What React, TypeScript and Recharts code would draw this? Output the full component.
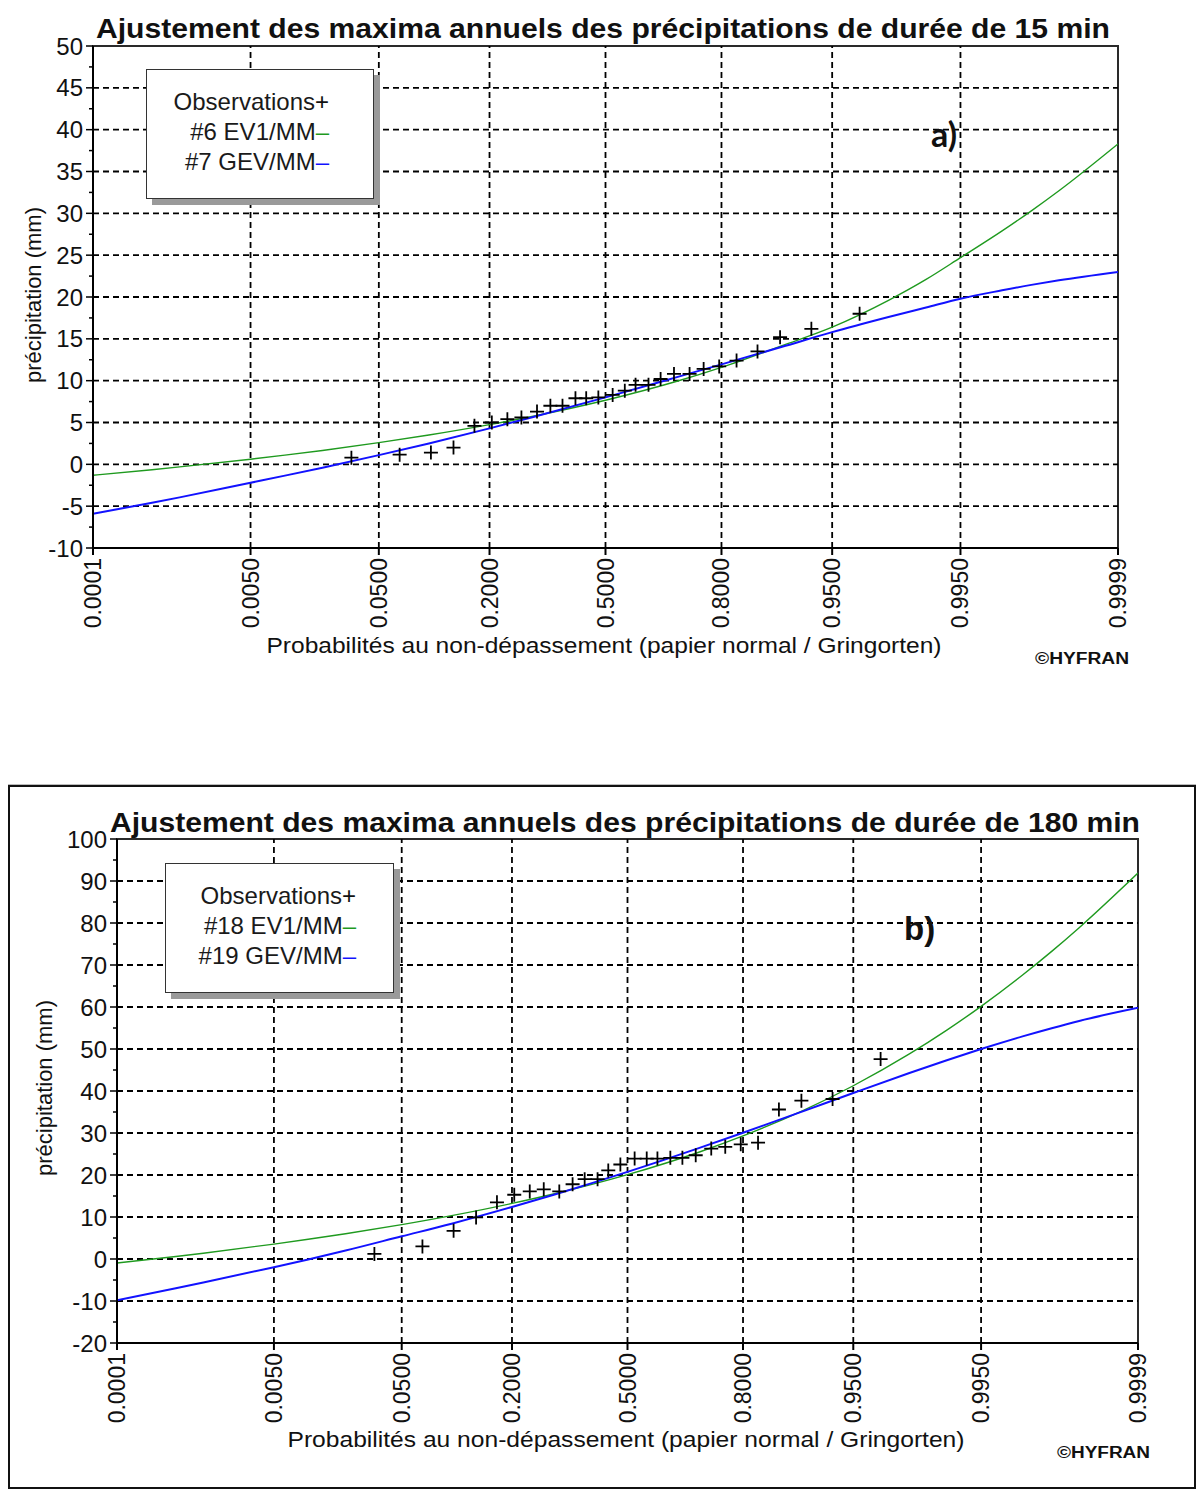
import React from "react";
import {
  ComposedChart,
  Legend,
  Line,
  ReferenceArea,
  ReferenceLine,
  Scatter,
  XAxis,
  YAxis,
} from "recharts";

// Probability paper: x axis is the normal quantile of the non-exceedance probability
const PROB_TICKS = ["0.0001", "0.0050", "0.0500", "0.2000", "0.5000", "0.8000", "0.9500", "0.9950", "0.9999"];

// probabilities at which the fitted curves were read
const CURVE_P = [
  0.0001, 0.0005, 0.001, 0.005, 0.01, 0.02, 0.05, 0.1, 0.2, 0.3, 0.5, 0.7, 0.8, 0.9, 0.95,
  0.98, 0.99, 0.995, 0.998, 0.999, 0.9995, 0.9999,
];

// plotting positions of the 28 observations (same for both charts)
const OBS_P = [
  0.0326, 0.0676, 0.1026, 0.135, 0.1708, 0.2047, 0.2382, 0.2709, 0.3096, 0.3446, 0.3775, 0.4137,
  0.4443, 0.4793, 0.5207, 0.5557, 0.5863, 0.6225, 0.6554, 0.6904, 0.7291, 0.7618, 0.7953,
  0.8292, 0.865, 0.8974, 0.9324, 0.9674,
];

// a) 15 min
const OBS_15 = [
  0.8, 1.15, 1.4, 2.0, 4.6, 5.0, 5.4, 5.6, 6.3, 7.0, 7.0, 7.9, 7.9, 8.0, 8.3, 8.8, 9.5, 9.5, 10.2,
  10.8, 10.8, 11.4, 11.7, 12.4, 13.5, 15.2, 16.2, 18.0,
];
const EV1_15 = [
  -1.3, -0.64, -0.31, 0.61, 1.1, 1.66, 2.59, 3.5, 4.74, 5.75, 7.66, 9.96, 11.59, 14.19, 16.4,
  19.6, 22.1, 24.7, 27.9, 30.3, 32.7, 38.3,
];
const GEV_15 = [
  -5.9, -4.6, -3.95, -2.2, -1.35, -0.4, 1.1, 2.5, 4.3, 5.65, 8.0, 10.45, 11.95, 14.05, 15.8,
  17.6, 18.75, 19.8, 20.8, 21.45, 22.0, 23.0,
];

// b) 180 min
const OBS_180 = [
  1.2, 3.0, 6.7, 9.9, 13.5, 15.3, 16.1, 16.6, 16.1, 17.8, 19.0, 19.0, 21.1, 22.5, 23.9, 23.9,
  23.9, 24.1, 24.1, 24.7, 26.3, 26.7, 27.3, 27.7, 35.6, 37.7, 38.1, 47.6,
];
const EV1_180 = [
  -0.95, 0.61, 1.38, 3.55, 4.69, 6.01, 8.18, 10.32, 13.23, 15.59, 20.08, 25.48, 29.3, 35.39,
  41.25, 48.82, 54.5, 60.16, 67.62, 73.25, 78.89, 91.9,
];
const GEV_180 = [
  -9.8, -6.98, -5.61, -1.95, -0.1, 2.01, 5.4, 8.41, 12.39, 15.42, 20.74, 26.45, 30.06, 35.21,
  39.52, 44.28, 47.32, 49.99, 53.01, 54.96, 56.68, 59.8,
];

const Y_MAJOR_15 = [-10, -5, 0, 5, 10, 15, 20, 25, 30, 35, 40, 45, 50];
const Y_MINOR_15 = [-7.5, -2.5, 2.5, 7.5, 12.5, 17.5, 22.5, 27.5, 32.5, 37.5, 42.5, 47.5];
const Y_MAJOR_180 = [-20, -10, 0, 10, 20, 30, 40, 50, 60, 70, 80, 90, 100];
const Y_MINOR_180 = [-15, -5, 5, 15, 25, 35, 45, 55, 65, 75, 85, 95];

const NAMES_15 = ["Observations", "#6 EV1/MM", "#7 GEV/MM"];
const NAMES_180 = ["Observations", "#18 EV1/MM", "#19 GEV/MM"];

const TITLE_15 = "Ajustement des maxima annuels des précipitations de durée de 15 min";
const TITLE_180 = "Ajustement des maxima annuels des précipitations de durée de 180 min";
const X_LABEL = "Probabilités au non-dépassement (papier normal / Gringorten)";
const Y_LABEL = "précipitation (mm)";

const FONT = '"Liberation Sans", Arial, sans-serif';
const GREEN = "#1f9a1f";
const BLUE = "#1212ff";

// inverse normal cdf (Acklam)
function probit(p: number) {
  const a = [-39.69683028665376, 220.9460984245205, -275.9285104469687, 138.357751867269, -30.66479806614716, 2.506628277459239];
  const b = [-54.47609879822406, 161.5858368580409, -155.6989798598866, 66.80131188771972, -13.28068155288572];
  const c = [-0.007784894002430293, -0.3223964580411365, -2.400758277161838, -2.549732539343734, 4.374664141464968, 2.938163982698783];
  const d = [0.007784695709041462, 0.3224671290700398, 2.445134137142996, 3.754408661907416];
  const plow = 0.02425;
  if (p < plow) {
    const q = Math.sqrt(-2 * Math.log(p));
    return (((((c[0] * q + c[1]) * q + c[2]) * q + c[3]) * q + c[4]) * q + c[5]) / ((((d[0] * q + d[1]) * q + d[2]) * q + d[3]) * q + 1);
  }
  if (p <= 1 - plow) {
    const q = p - 0.5;
    const r = q * q;
    return ((((((a[0] * r + a[1]) * r + a[2]) * r + a[3]) * r + a[4]) * r + a[5]) * q) / (((((b[0] * r + b[1]) * r + b[2]) * r + b[3]) * r + b[4]) * r + 1);
  }
  const q = Math.sqrt(-2 * Math.log(1 - p));
  return -(((((c[0] * q + c[1]) * q + c[2]) * q + c[3]) * q + c[4]) * q + c[5]) / ((((d[0] * q + d[1]) * q + d[2]) * q + d[3]) * q + 1);
}

const toPoints = (ps: number[], vs: number[]) => ps.map((p, i) => ({ z: probit(p), v: vs[i] }));

const X_TICKS = PROB_TICKS.map((s) => probit(parseFloat(s)));
const X_DOMAIN: [number, number] = [X_TICKS[0], X_TICKS[X_TICKS.length - 1]];

function XTick(props: any) {
  const { x, y, index } = props;
  return (
    <text
      x={x}
      y={y}
      transform={`rotate(-90 ${x} ${y})`}
      textAnchor="end"
      dominantBaseline="central"
      fontFamily={FONT}
      fontSize={23}
      fill="#111"
    >
      {PROB_TICKS[index]}
    </text>
  );
}

function YTick(props: any) {
  const { x, y, payload, major } = props;
  const isMajor = major.includes(payload.value);
  return (
    <g>
      <line x1={isMajor ? x + 3 : x + 6} x2={x + 10} y1={y} y2={y} stroke="#000" strokeWidth={1.5} />
      {isMajor && (
        <text x={x} y={y} dy="0.36em" textAnchor="end" fontFamily={FONT} fontSize={24} fill="#111">
          {payload.value}
        </text>
      )}
    </g>
  );
}

function Cross(props: any) {
  const { cx, cy } = props;
  return <path d={`M${cx - 7},${cy}h14M${cx},${cy - 7}v14`} stroke="#000" strokeWidth={1.8} fill="none" />;
}

function LegendBox(props: any) {
  const { payload = [], padRight } = props;
  const items = [...payload].sort((a: any, b: any) => {
    if (a.type === "cross") return -1;
    if (b.type === "cross") return 1;
    return String(a.value).localeCompare(String(b.value));
  });
  return (
    <div
      style={{
        boxSizing: "border-box",
        height: 130,
        background: "#fff",
        border: "1.5px solid #333",
        boxShadow: "6px 6px 0 #9a9a9a",
        paddingTop: 17,
        paddingRight: padRight,
        textAlign: "right",
        fontFamily: FONT,
        fontSize: 24,
        lineHeight: "30px",
        color: "#1a1a1a",
      }}
    >
      {items.map((it: any) => (
        <div key={it.value}>
          {it.value}
          <span style={{ color: it.type === "cross" ? "#111" : it.color }}>
            {it.type === "cross" ? "+" : "\u2013"}
          </span>
        </div>
      ))}
    </div>
  );
}

type ChartProps = {
  height: number;
  margin: { top: number; right: number; bottom: number; left: number };
  yMajor: number[];
  yMinor: number[];
  obs: number[];
  ev1: number[];
  gev: number[];
  names: string[];
  legendPos: { left: number; top: number; width: number; padRight: number };
};

function ProbChart({ height, margin, yMajor, yMinor, obs, ev1, gev, names, legendPos }: ChartProps) {
  const yDomain: [number, number] = [yMajor[0], yMajor[yMajor.length - 1]];
  const yTicks = [...yMajor, ...yMinor].sort((a, b) => a - b);
  return (
    <ComposedChart width={1200} height={height} margin={margin}>
      <XAxis
        type="number"
        dataKey="z"
        domain={X_DOMAIN}
        ticks={X_TICKS}
        interval={0}
        height={110}
        tickSize={7}
        tickMargin={3}
        allowDataOverflow
        axisLine={{ stroke: "#000", strokeWidth: 2 }}
        tickLine={{ stroke: "#000", strokeWidth: 2 }}
        tick={(p: any) => <XTick {...p} />}
      />
      <YAxis
        type="number"
        domain={yDomain}
        ticks={yTicks}
        interval={0}
        width={60}
        tickSize={7}
        tickMargin={3}
        allowDataOverflow
        axisLine={{ stroke: "#000", strokeWidth: 2 }}
        tickLine={false}
        tick={(p: any) => <YTick {...p} major={yMajor} />}
      />
      {yMajor.slice(1, -1).map((v) => (
        <ReferenceLine key={"h" + v} y={v} stroke="#000" strokeWidth={1.8} strokeDasharray="6 4" />
      ))}
      {X_TICKS.slice(1, -1).map((z) => (
        <ReferenceLine key={"v" + z} x={z} stroke="#000" strokeWidth={1.8} strokeDasharray="6 4" />
      ))}
      <ReferenceArea
        x1={X_DOMAIN[0]}
        x2={X_DOMAIN[1]}
        y1={yDomain[0]}
        y2={yDomain[1]}
        fill="none"
        fillOpacity={0}
        stroke="#2a2a2a"
        strokeWidth={2}
      />
      <Scatter
        name={names[0]}
        data={toPoints(OBS_P, obs)}
        dataKey="v"
        fill="#000"
        legendType="cross"
        shape={Cross}
        isAnimationActive={false}
      />
      <Line
        name={names[1]}
        data={toPoints(CURVE_P, ev1)}
        dataKey="v"
        type="monotone"
        stroke={GREEN}
        strokeWidth={1.4}
        dot={false}
        legendType="line"
        isAnimationActive={false}
      />
      <Line
        name={names[2]}
        data={toPoints(CURVE_P, gev)}
        dataKey="v"
        type="monotone"
        stroke={BLUE}
        strokeWidth={2}
        dot={false}
        legendType="line"
        isAnimationActive={false}
      />
      <Legend
        layout="vertical"
        align="center"
        verticalAlign="middle"
        wrapperStyle={{ left: legendPos.left, top: legendPos.top, width: legendPos.width, right: "auto", bottom: "auto" }}
        content={(p: any) => <LegendBox {...p} padRight={legendPos.padRight} />}
      />
    </ComposedChart>
  );
}

export default function App() {
  return (
    <div style={{ position: "relative", width: 1200, height: 1495, background: "#fff" }}>
      <style>{"body{margin:0}"}</style>
      <div style={{ position: "absolute", left: 0, top: 0 }}>
        <ProbChart
          height={700}
          margin={{ top: 46, right: 82, bottom: 42, left: 33 }}
          yMajor={Y_MAJOR_15}
          yMinor={Y_MINOR_15}
          obs={OBS_15}
          ev1={EV1_15}
          gev={GEV_15}
          names={NAMES_15}
          legendPos={{ left: 146, top: 69, width: 228, padRight: 44 }}
        />
      </div>
      <div
        style={{
          position: "absolute",
          left: 8,
          top: 785,
          width: 1188,
          height: 704,
          boxSizing: "border-box",
          border: "2px solid #111",
          boxShadow: "0 -1px 0 #bbb",
        }}
      />
      <div style={{ position: "absolute", left: 0, top: 780 }}>
        <ProbChart
          height={715}
          margin={{ top: 59, right: 62, bottom: 42, left: 57 }}
          yMajor={Y_MAJOR_180}
          yMinor={Y_MINOR_180}
          obs={OBS_180}
          ev1={EV1_180}
          gev={GEV_180}
          names={NAMES_180}
          legendPos={{ left: 165, top: 83, width: 229, padRight: 37 }}
        />
      </div>
      <svg
        width={1200}
        height={1495}
        style={{ position: "absolute", left: 0, top: 0, pointerEvents: "none" }}
      >
        <g fontFamily={FONT} fill="#111">
          <text x={603} y={38} textAnchor="middle" fontSize={27} fontWeight="bold" textLength={1014} lengthAdjust="spacingAndGlyphs">
            {TITLE_15}
          </text>
          <text x={604} y={653} textAnchor="middle" fontSize={22} textLength={675} lengthAdjust="spacingAndGlyphs">
            {X_LABEL}
          </text>
          <text transform="translate(41 295) rotate(-90)" textAnchor="middle" fontSize={22}>
            {Y_LABEL}
          </text>
          <text x={1035} y={664} fontSize={16} fontWeight="bold" textLength={94} lengthAdjust="spacingAndGlyphs">
            ©HYFRAN
          </text>
          <text x={931} y={147} fontSize={34} fontWeight="bold" fontFamily="Lato, sans-serif">
            a)
          </text>

          <text x={625} y={832} textAnchor="middle" fontSize={27} fontWeight="bold" textLength={1030} lengthAdjust="spacingAndGlyphs">
            {TITLE_180}
          </text>
          <text x={626} y={1447} textAnchor="middle" fontSize={22} textLength={677} lengthAdjust="spacingAndGlyphs">
            {X_LABEL}
          </text>
          <text transform="translate(52 1088) rotate(-90)" textAnchor="middle" fontSize={22}>
            {Y_LABEL}
          </text>
          <text x={1057} y={1458} fontSize={16} fontWeight="bold" textLength={93} lengthAdjust="spacingAndGlyphs">
            ©HYFRAN
          </text>
          <text x={904} y={940} fontSize={33} fontWeight="bold">
            b)
          </text>
        </g>
      </svg>
    </div>
  );
}
